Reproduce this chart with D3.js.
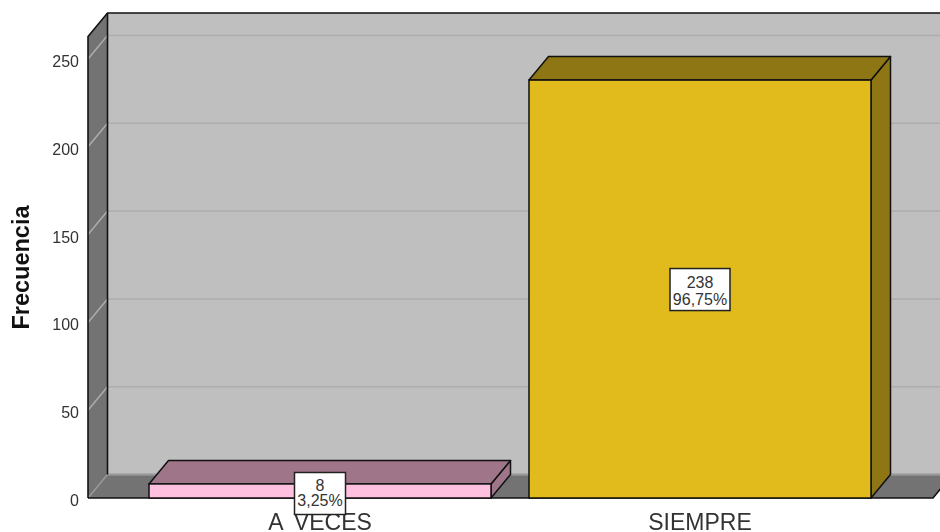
<!DOCTYPE html>
<html><head><meta charset="utf-8">
<script src="https://cdn.jsdelivr.net/npm/d3@7"></script>
<style>html,body{margin:0;padding:0;background:#fff}svg{display:block;filter:blur(0.35px)}text{font-family:"Liberation Sans",Arial,sans-serif;font-kerning:none}</style>
</head><body><svg id="c" width="940" height="532"></svg>
<script>
const categories = ["A VECES", "SIEMPRE"];
const values = [8, 238];
const percents = ["3,25%", "96,75%"];
const yTicks = [0, 50, 100, 150, 200, 250];
const yTitle = "Frecuencia";

const frontColors = ["#FFBFDF", "#E1BA1B"];
const topColors = ["#9F7589", "#8D7613"];
const sideColors = ["#9F7589", "#8D7613"];

const svg = d3.select("#c");
const dx = 19.5, dy = -23.5;
const y = d3.scaleLinear().domain([0, 250]).range([498, 59]);
const x = d3.scaleBand().domain(categories).range([130, 890]).paddingInner(0.1).paddingOuter(0.05);
const wallL = 88, floorR = 933, wallTop = 36.5;
const line = d3.line();
const poly = (pts, fill, stroke, w) => svg.append("path").attr("d", line(pts) + "Z")
  .attr("fill", fill).attr("stroke", stroke || "none").attr("stroke-width", w || 0).attr("stroke-linejoin", "round");

// back wall
svg.append("rect").attr("x", wallL + dx).attr("y", wallTop + dy).attr("width", 940 - wallL - dx)
  .attr("height", y(0) - wallTop).attr("fill", "#BFBFBF");
// floor
poly([[wallL, y(0)], [wallL + dx, y(0) + dy], [floorR + dx, y(0) + dy], [floorR, y(0)]], "#737373");
svg.append("line").attr("x1", wallL + dx).attr("x2", 940).attr("y1", y(0) + dy).attr("y2", y(0) + dy).attr("stroke", "#9a9a9a").attr("stroke-width", 2);
// left wall
poly([[wallL, y(0)], [wallL, wallTop], [wallL + dx, wallTop + dy], [wallL + dx, y(0) + dy]], "#737373");

// grid
yTicks.forEach(t => {
  svg.append("path").attr("d", line([[wallL, y(t)], [wallL + dx, y(t) + dy], [940, y(t) + dy]]))
    .attr("fill", "none").attr("stroke", t === 0 ? "#9a9a9a" : "#ADADAD").attr("stroke-width", 1.5);
});

// frame
const k = "#111";
svg.append("path").attr("d", line([[wallL, y(0)], [wallL, wallTop], [wallL + dx, wallTop + dy], [940, wallTop + dy]]))
  .attr("fill", "none").attr("stroke", k).attr("stroke-width", 1.6);
svg.append("path").attr("d", line([[wallL + dx, wallTop + dy], [wallL + dx, y(0) + dy]]))
  .attr("fill", "none").attr("stroke", k).attr("stroke-width", 1.6);
svg.append("path").attr("d", line([[wallL, y(0)], [floorR, y(0)], [floorR + dx, y(0) + dy]]))
  .attr("fill", "none").attr("stroke", k).attr("stroke-width", 1.6);

// bars
categories.forEach((c, i) => {
  const l = x(c), r = l + x.bandwidth(), t = y(values[i]), b = y(0);
  poly([[r, b], [r + dx, b + dy], [r + dx, t + dy], [r, t]], sideColors[i], k, 1.5);
  poly([[l, t], [l + dx, t + dy], [r + dx, t + dy], [r, t]], topColors[i], k, 1.5);
  svg.append("rect").attr("x", l).attr("y", t).attr("width", x.bandwidth()).attr("height", b - t)
    .attr("fill", frontColors[i]).attr("stroke", k).attr("stroke-width", 1.5);
});

// y tick labels
svg.append("g").selectAll("text").data(yTicks).join("text")
  .attr("x", 79).attr("y", d => y(d) + 8).attr("text-anchor", "end")
  .attr("font-size", 16).attr("fill", "#333").text(d => d);

// category labels
svg.append("g").selectAll("text").data(categories).join("text")
  .attr("x", d => x(d) + x.bandwidth() / 2).attr("y", 530).attr("text-anchor", "middle")
  .attr("font-size", 23).attr("word-spacing", 4).attr("fill", "#333").text(d => d);

// axis title
svg.append("text").attr("transform", "translate(28.5,267.5) rotate(-90)").attr("text-anchor", "middle")
  .attr("font-size", 23.5).attr("font-weight", "bold").attr("fill", "#111").text(yTitle);

// value labels
categories.forEach((c, i) => {
  const cx = x(c) + x.bandwidth() / 2;
  const mid = i === 0 ? 493.5 : y(values[i] / 2) + 0.5;
  const w = i === 0 ? 51 : 60, h = 42;
  const first = i === 0 ? -3 : -2, second = i === 0 ? 12.5 : 15.5;
  svg.append("rect").attr("x", cx - w / 2).attr("y", mid - h / 2).attr("width", w).attr("height", h)
    .attr("fill", "#fff").attr("stroke", "#222").attr("stroke-width", 1.5);
  svg.append("text").attr("x", cx).attr("y", mid + first).attr("text-anchor", "middle").attr("font-size", 16).attr("fill", "#333").text(values[i]);
  svg.append("text").attr("x", cx).attr("y", mid + second).attr("text-anchor", "middle").attr("font-size", 16).attr("fill", "#333").text(percents[i]);
});
</script></body></html>
